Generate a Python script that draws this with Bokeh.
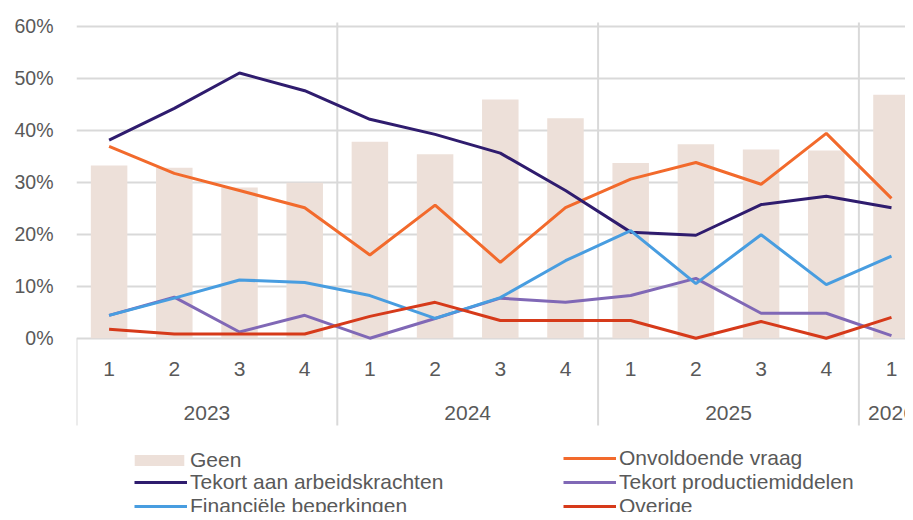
from bokeh.plotting import figure
from bokeh.models import (Range1d, FixedTicker, PrintfTickFormatter, Legend,
                          LegendItem, ColumnDataSource)
from bokeh.core.properties import value
from bokeh.embed import file_html
from bokeh.resources import INLINE

# ---------------- data ----------------
quarter_labels = ["1", "2", "3", "4", "1", "2", "3", "4", "1", "2", "3", "4", "1"]
quarter_years = ["2023", "2023", "2023", "2023", "2024", "2024", "2024", "2024",
                 "2025", "2025", "2025", "2025", "2026"]
year_labels = ["2023", "2024", "2025", "2026"]

geen = [33.2, 32.8, 29.0, 29.9, 37.8, 35.4, 45.9, 42.3, 33.7, 37.3, 36.3, 36.1, 46.8]
onvoldoende_vraag = [36.9, 31.7, 28.4, 25.1, 16.0, 25.6, 14.6, 25.1, 30.6, 33.8, 29.6, 39.4, 26.9]
tekort_arbeid = [38.1, 44.2, 51.0, 47.6, 42.1, 39.2, 35.6, 28.4, 20.4, 19.8, 25.7, 27.3, 25.1]
tekort_productie = [4.4, 7.9, 1.2, 4.4, 0.0, 3.8, 7.7, 6.9, 8.2, 11.5, 4.8, 4.8, 0.5]
financiele = [4.4, 7.7, 11.2, 10.7, 8.2, 3.8, 7.8, 14.9, 20.7, 10.5, 19.9, 10.3, 15.8]
overige = [1.7, 0.8, 0.8, 0.8, 4.2, 6.9, 3.4, 3.4, 3.4, 0.0, 3.2, 0.0, 4.0]

y_ticks = [0, 10, 20, 30, 40, 50, 60]

# ---------------- styling ----------------
FONT = "Liberation Sans"
TEXT_COLOR = "#595959"
GRID_COLOR = "#d9d9d9"
C_GEEN = "#ede0d9"
C_VRAAG = "#f26a2c"
C_ARBEID = "#2f1c6e"
C_PROD = "#8068b6"
C_FIN = "#489de0"
C_OVERIGE = "#d63a1a"

n = len(quarter_labels)
xs = [i + 0.5 for i in range(n)]

# year group boundaries and centres derived from the data
bounds = []
centres = []
for yr in year_labels:
    idx = [i for i, q in enumerate(quarter_years) if q == yr]
    bounds.append(idx[0])
    centres.append((idx[0] + idx[-1] + 1) / 2)
sep_x = [b for b in bounds[1:]]

p = figure(width=905, height=512, output_backend="svg", toolbar_location=None,
           x_range=Range1d(0, 12.715), y_range=Range1d(-33.52, 61.1),
           x_axis_location=None, min_border_left=76, min_border_right=0,
           min_border_top=20, min_border_bottom=0)
p.outline_line_color = None
p.background_fill_color = "white"
p.border_fill_color = "white"

# y axis
p.yaxis.ticker = FixedTicker(ticks=y_ticks)
p.yaxis.formatter = PrintfTickFormatter(format="%d%%")
p.yaxis.axis_line_color = None
p.yaxis.major_tick_line_color = None
p.yaxis.minor_tick_line_color = None
p.yaxis.major_tick_out = 0
p.yaxis.major_tick_in = 0
p.yaxis.major_label_standoff = 23
p.yaxis.major_label_text_font = FONT
p.yaxis.major_label_text_font_size = "19.5px"
p.yaxis.major_label_text_color = TEXT_COLOR

p.xgrid.visible = False
p.ygrid.ticker = FixedTicker(ticks=y_ticks)
p.ygrid.grid_line_color = GRID_COLOR
p.ygrid.grid_line_width = 2

# category axis lines (separators)
y_bottom = -16.8
p.segment(x0=sep_x, x1=sep_x, y0=[y_bottom] * len(sep_x), y1=[60.7] * len(sep_x),
          line_color=GRID_COLOR, line_width=2)
p.segment(x0=[bounds[0]], x1=[bounds[0]], y0=[y_bottom], y1=[0],
          line_color=GRID_COLOR, line_width=2)

# bars
src = ColumnDataSource(dict(x=xs, geen=geen, vraag=onvoldoende_vraag,
                            arbeid=tekort_arbeid, prod=tekort_productie,
                            fin=financiele, ov=overige))
r_geen = p.vbar(x="x", top="geen", bottom=0, width=0.56, source=src,
                fill_color=C_GEEN, line_color=None)

lw = 3
r_vraag = p.line("x", "vraag", source=src, line_color=C_VRAAG, line_width=lw)
r_arbeid = p.line("x", "arbeid", source=src, line_color=C_ARBEID, line_width=lw)
r_prod = p.line("x", "prod", source=src, line_color=C_PROD, line_width=lw)
r_fin = p.line("x", "fin", source=src, line_color=C_FIN, line_width=lw)
r_ov = p.line("x", "ov", source=src, line_color=C_OVERIGE, line_width=lw)

# category labels
p.text(x=xs, y=[-6.0] * n, text=quarter_labels, text_align="center",
       text_baseline="middle", text_font=value(FONT), text_font_size="21px",
       text_color=TEXT_COLOR)
p.text(x=centres, y=[-14.4] * len(centres), text=year_labels, text_align="center",
       text_baseline="middle", text_font=value(FONT), text_font_size="21px",
       text_color=TEXT_COLOR)


def make_legend(items, loc, gw=53, gh=20, standoff=3):
    return Legend(items=items, location=loc, orientation="vertical",
                  padding=0, margin=0, spacing=0, glyph_width=gw, glyph_height=gh,
                  label_height=20, label_standoff=standoff, border_line_color=None,
                  background_fill_alpha=0, label_text_font=FONT,
                  label_text_font_size="21px", label_text_color=TEXT_COLOR)


leg_geen = make_legend([LegendItem(label="Geen", renderers=[r_geen])],
                       (52, 40), gw=62, gh=14, standoff=0)
leg1 = make_legend([LegendItem(label="Tekort aan arbeidskrachten", renderers=[r_arbeid]),
                    LegendItem(label="Financiële beperkingen", renderers=[r_fin])],
                   (58, -6))
leg2 = make_legend([LegendItem(label="Onvoldoende vraag", renderers=[r_vraag]),
                    LegendItem(label="Tekort productiemiddelen", renderers=[r_prod]),
                    LegendItem(label="Overige", renderers=[r_ov])],
                   (487, -6))
for lg in (leg_geen, leg1, leg2):
    p.add_layout(lg, "center")

open("out.html", "w").write(file_html(p, INLINE))
